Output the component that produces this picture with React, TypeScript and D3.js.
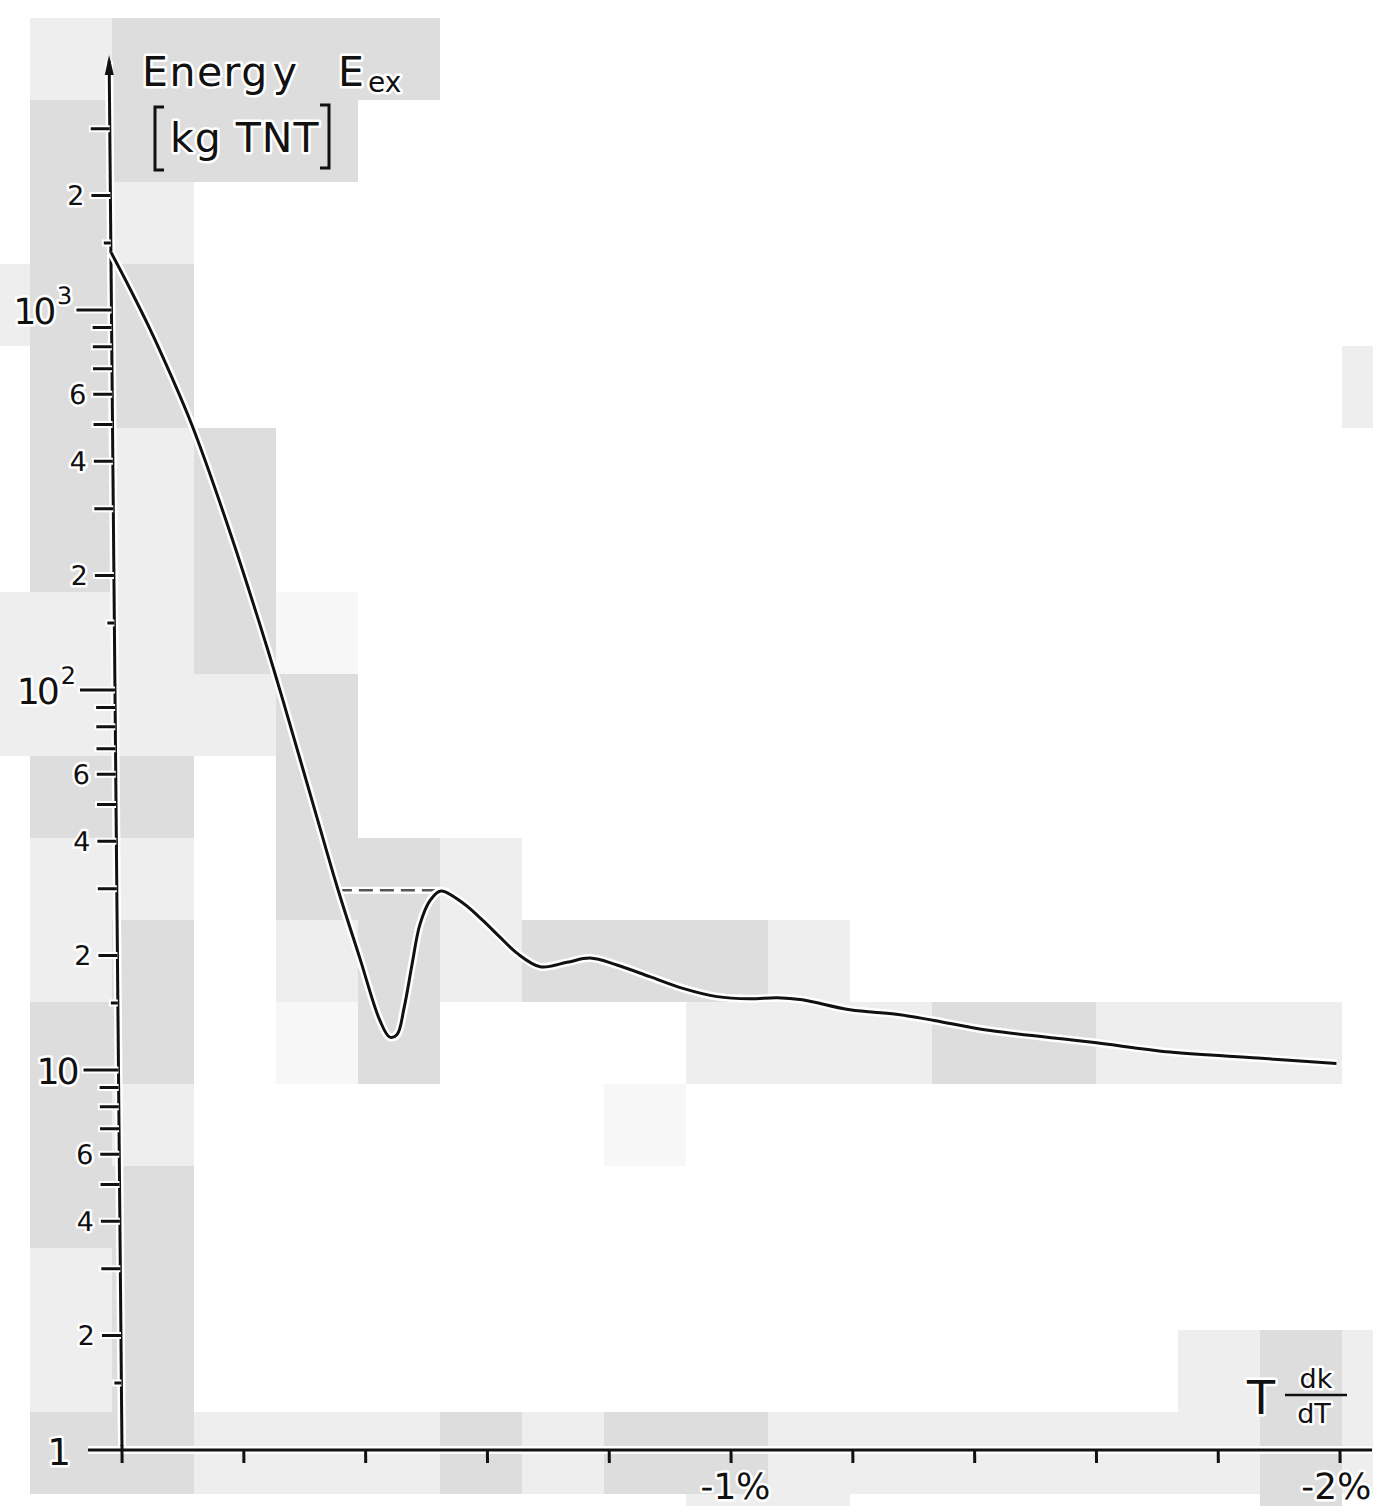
import * as d3 from "d3";

// curve: x = T·dk/dT in %, E = excess energy in kg TNT
const curveX = [0, -0.031, -0.063, -0.095, -0.131, -0.191, -0.25, -0.276, -0.33, -0.363, -0.398, -0.43, -0.446, -0.458, -0.47, -0.484, -0.497, -0.514, -0.532, -0.568, -0.6, -0.628, -0.656, -0.694, -0.738, -0.776, -0.82, -0.874, -0.928, -0.984, -1.038, -1.083, -1.124, -1.202, -1.281, -1.34, -1.432, -1.596, -1.727, -1.871, -2.0];
const curveE = [1420, 1136, 891, 683, 495, 261, 130, 93.5, 46, 29.9, 19.7, 13.5, 12.2, 12.4, 14.6, 19.1, 24.1, 27.9, 29.6, 27.5, 24.8, 22.4, 20.3, 18.7, 19.2, 19.7, 18.9, 17.6, 16.4, 15.6, 15.4, 15.5, 15.3, 14.4, 14.0, 13.5, 12.7, 11.85, 11.15, 10.75, 10.4];

// dashed level line across the dip
const dashX = [-0.363, -0.532];
const dashE = [29.7, 29.7];

// axis ticks
const xTicks = [0, -0.2, -0.4, -0.6, -0.8, -1.0, -1.2, -1.4, -1.6, -1.8, -2.0];
const xLabelValues = [-1, -2];
const xLabelTexts = ["-1%", "-2%"];

const yMajorTicks = [10, 100, 1000];
const yMinorTicks = [1.5, 2, 3, 4, 5, 6, 7, 8, 9, 15, 20, 30, 40, 50, 60, 70, 80, 90, 150, 200, 300, 400, 500, 600, 700, 800, 900, 1500, 2000, 3000];
const yShortTicks = [1.5, 15, 150, 1500];
const yLabelValues = [2, 4, 6, 20, 40, 60, 200, 400, 600, 2000];
const yLabelTexts = ["2", "4", "6", "2", "4", "6", "2", "4", "6", "2"];
const yPowerValues = [10, 100, 1000];
const yPowerExp = ["", "2", "3"];

// grey scan blocks behind the figure: [column, row, shade]
const D = "#dddddd", L = "#eeeeee", V = "#f7f7f7";
const tiles: [number, number, string][] = [
  [0, 0, L], [1, 0, D], [2, 0, D], [3, 0, D], [4, 0, D],
  [0, 1, D], [1, 1, D], [2, 1, D], [3, 1, D],
  [0, 2, D], [1, 2, L],
  [-1, 3, L], [0, 3, D], [1, 3, D],
  [0, 4, D], [1, 4, D], [16, 4, L],
  [0, 5, D], [1, 5, L], [2, 5, D],
  [0, 6, D], [1, 6, L], [2, 6, D],
  [-1, 7, L], [0, 7, L], [1, 7, L], [2, 7, D], [3, 7, V],
  [-1, 8, L], [0, 8, L], [1, 8, L], [2, 8, L], [3, 8, D],
  [0, 9, D], [1, 9, D], [3, 9, D],
  [0, 10, L], [1, 10, L], [3, 10, D], [4, 10, D], [5, 10, L],
  [0, 11, L], [1, 11, D], [3, 11, L], [4, 11, D], [5, 11, L], [6, 11, D], [7, 11, D], [8, 11, D], [9, 11, L],
  [0, 12, D], [1, 12, D], [3, 12, V], [4, 12, D], [8, 12, L], [9, 12, L], [10, 12, L], [11, 12, D], [12, 12, D], [13, 12, L], [14, 12, L], [15, 12, L],
  [0, 13, D], [1, 13, L], [7, 13, V],
  [0, 14, D], [1, 14, D],
  [0, 15, L], [1, 15, D],
  [0, 16, L], [1, 16, D], [14, 16, L], [15, 16, D], [16, 16, L],
  [0, 17, D], [1, 17, D], [2, 17, L], [3, 17, L], [4, 17, L], [5, 17, D], [6, 17, L], [7, 17, D], [8, 17, D],
  [9, 17, L], [10, 17, L], [11, 17, L], [12, 17, L], [13, 17, L], [14, 17, L], [15, 17, D], [16, 17, L],
  [8, 18, L], [9, 18, L], [15, 18, D],
];

const W = 1373;
const H = 1506;
const origin = { x: 122, y: 1450 };
const font = "'DejaVu Sans', sans-serif";
const ink = "#111";

const halo = { stroke: "#fff", strokeWidth: 5, paintOrder: "stroke" as const, strokeLinejoin: "round" as const };

export default function App() {
  const x = d3.scaleLinear().domain([0, -2]).range([0, 1218]);
  const y = d3.scaleLog().domain([1, 1000]).range([0, -1140]);

  const pts = curveX.map((v, i) => [v, curveE[i]] as [number, number]);
  const line = d3
    .line<[number, number]>()
    .x((d) => x(d[0]))
    .y((d) => y(d[1]))
    .curve(d3.curveCatmullRom.alpha(0.5));
  const dashPts = dashX.map((v, i) => [v, dashE[i]] as [number, number]);
  const dashLine = d3.line<[number, number]>().x((d) => x(d[0])).y((d) => y(d[1]));

  const yTop = -1395;
  const xMax = W - origin.x - 2;

  return (
    <svg width={W} height={H} style={{ position: "absolute", left: 0, top: 0, background: "#fff" }}>
      <g>
        {tiles.map(([c, r, f], i) => (
          <rect key={i} x={30 + 82 * c} y={18 + 82 * r} width={82} height={82} fill={f} />
        ))}
      </g>

      {/* the scan is slightly skewed: the y axis leans left towards the top */}
      <g transform={`translate(${origin.x},${origin.y}) skewX(0.53)`}>
        {/* y axis */}
        <line x1={0} y1={0} x2={0} y2={yTop + 6} stroke="#fff" strokeWidth={8} />
        <line x1={0} y1={4} x2={0} y2={yTop + 6} stroke={ink} strokeWidth={3} />
        <path d={`M0,${yTop} L-4.5,${yTop + 20} L4.5,${yTop + 20} Z`} fill={ink} />

        {yMinorTicks.map((v) => {
          const len = yShortTicks.includes(v) ? 7 : 19;
          return (
            <g key={"m" + v}>
              <line x1={-len - 2} x2={0} y1={y(v)} y2={y(v)} stroke="#fff" strokeWidth={7} />
              <line x1={-len} x2={0} y1={y(v)} y2={y(v)} stroke={ink} strokeWidth={3} />
            </g>
          );
        })}
        {yMajorTicks.map((v) => (
          <g key={"M" + v}>
            <line x1={-37} x2={0} y1={y(v)} y2={y(v)} stroke="#fff" strokeWidth={7} />
            <line x1={-35} x2={0} y1={y(v)} y2={y(v)} stroke={ink} strokeWidth={3} />
          </g>
        ))}
        {yLabelValues.map((v, i) => (
          <text
            key={"l" + v}
            x={-26}
            y={y(v)}
            textAnchor="end"
            dominantBaseline="central"
            fontFamily={font}
            fontSize={27}
            fill={ink}
            {...halo}
          >
            {yLabelTexts[i]}
          </text>
        ))}
        {yPowerValues.map((v, i) => (
          <text
            key={"p" + v}
            x={yPowerExp[i] ? -39 : -42}
            y={y(v) + 1}
            textAnchor="end"
            dominantBaseline="central"
            fontFamily={font}
            fontSize={36}
            letterSpacing={-3}
            fill={ink}
            {...halo}
          >
            10
            {yPowerExp[i] && (
              <tspan dx={4} dy={-15} fontSize={24} letterSpacing={0}>
                {yPowerExp[i]}
              </tspan>
            )}
          </text>
        ))}
        <text x={-51} y={2} textAnchor="end" dominantBaseline="central" fontFamily={font} fontSize={37} fill={ink} {...halo}>
          1
        </text>

        {/* x axis */}
        <line x1={-34} x2={1250} y1={0} y2={0} stroke="#fff" strokeWidth={8} />
        <line x1={-34} x2={1250} y1={0} y2={0} stroke={ink} strokeWidth={3} />
        {xTicks.map((v) => (
          <line key={"x" + v} x1={x(v)} x2={x(v)} y1={v === 0 ? -5 : 0} y2={13} stroke={ink} strokeWidth={3} />
        ))}
        {xLabelValues.map((v, i) => {
          const last = i === xLabelValues.length - 1;
          return (
            <text
              key={"xl" + v}
              x={last ? Math.min(x(v) + 40, xMax) : x(v) + 4}
              y={49}
              textAnchor={last ? "end" : "middle"}
              fontFamily={font}
              fontSize={36}
              fill={ink}
              {...halo}
            >
              {xLabelTexts[i]}
            </text>
          );
        })}

        {/* curve */}
        <path d={dashLine(dashPts) ?? ""} fill="none" stroke="#fff" strokeWidth={7} />
        <path d={dashLine(dashPts) ?? ""} fill="none" stroke="#555" strokeWidth={2.5} strokeDasharray="14 7" />
        <path d={line(pts) ?? ""} fill="none" stroke="#fff" strokeWidth={8} strokeLinejoin="round" />
        <path d={line(pts) ?? ""} fill="none" stroke={ink} strokeWidth={3} strokeLinejoin="round" />
      </g>

      {/* axis titles */}
      <g fontFamily={font} fill={ink}>
        <text x={142} y={86} fontSize={41} letterSpacing={1.5} {...halo}>
          Energ<tspan dx={4}>y</tspan>
        </text>
        <text x={338} y={86} fontSize={41} {...halo}>
          E<tspan dx={4} dy={6} fontSize={28}>ex</tspan>
        </text>
        <path d="M164,107 L155,107 L155,170 L164,170" fill="none" stroke={ink} strokeWidth={3} />
        <text x={170} y={152} fontSize={41} letterSpacing={1} {...halo}>
          kg TNT
        </text>
        <path d="M320,105 L329,105 L329,168 L320,168" fill="none" stroke={ink} strokeWidth={3} />

        <text x={1247} y={1414} fontSize={46} {...halo}>
          T
        </text>
        <text x={1316} y={1388} fontSize={27} textAnchor="middle" {...halo}>
          dk
        </text>
        <line x1={1285} x2={1347} y1={1395} y2={1395} stroke={ink} strokeWidth={2.5} />
        <text x={1314} y={1423} fontSize={27} textAnchor="middle" {...halo}>
          dT
        </text>
      </g>
    </svg>
  );
}
